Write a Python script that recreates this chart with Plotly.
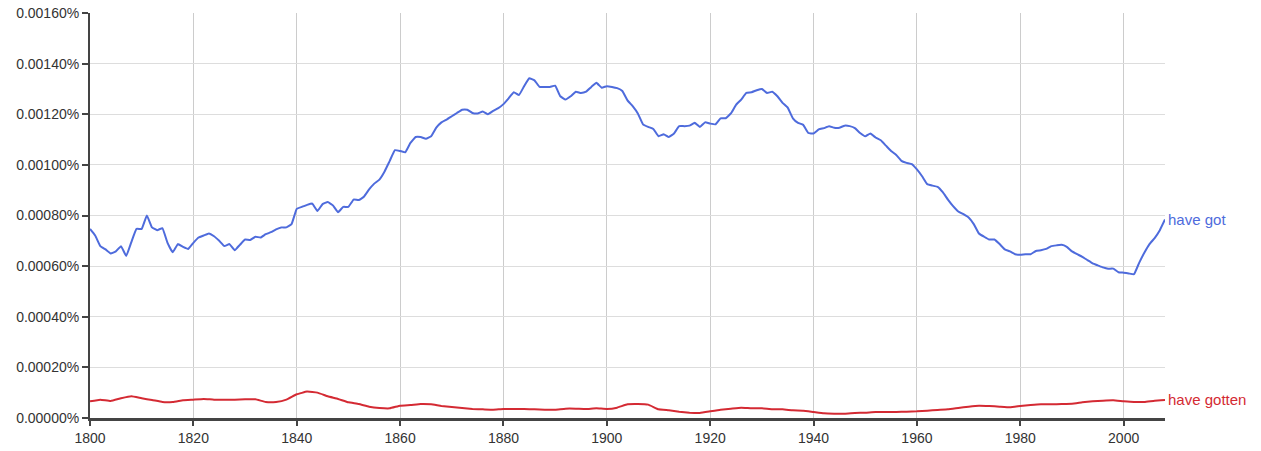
import plotly.graph_objects as go

years_got = list(range(1800, 2009))
have_got = [
    0.000747, 0.000721, 0.000679, 0.000666, 0.000650, 0.000658, 0.000679, 0.000640, 0.000695, 0.000747,
    0.000747, 0.000800, 0.000753, 0.000742, 0.000750, 0.000692, 0.000655, 0.000687, 0.000676, 0.000668,
    0.000692, 0.000713, 0.000721, 0.000729, 0.000718, 0.000700, 0.000679, 0.000687, 0.000663, 0.000684,
    0.000705, 0.000703, 0.000716, 0.000713, 0.000726, 0.000734, 0.000745, 0.000753, 0.000753, 0.000766,
    0.000826, 0.000834, 0.000842, 0.000847, 0.000818, 0.000845, 0.000853, 0.000840, 0.000813, 0.000834,
    0.000834, 0.000863, 0.000861, 0.000874, 0.000903, 0.000926, 0.000942, 0.000974, 0.001016, 0.001058,
    0.001055, 0.001050, 0.001087, 0.001110, 0.001110, 0.001103, 0.001113, 0.001147, 0.001168, 0.001179,
    0.001192, 0.001205, 0.001218, 0.001218, 0.001205, 0.001203, 0.001211, 0.001200, 0.001213, 0.001224,
    0.001240, 0.001263, 0.001287, 0.001276, 0.001311, 0.001342, 0.001334, 0.001308, 0.001308, 0.001308,
    0.001313, 0.001271, 0.001258, 0.001271, 0.001289, 0.001284, 0.001289, 0.001308, 0.001324, 0.001305,
    0.001311, 0.001308, 0.001303, 0.001292, 0.001255, 0.001232, 0.001203, 0.001160, 0.001150, 0.001142,
    0.001113, 0.001121, 0.001110, 0.001124, 0.001153, 0.001153, 0.001155, 0.001166, 0.001150, 0.001168,
    0.001163, 0.001160, 0.001184, 0.001184, 0.001203, 0.001237, 0.001258, 0.001284, 0.001287, 0.001295,
    0.001300, 0.001284, 0.001289, 0.001271, 0.001245, 0.001226, 0.001184, 0.001166, 0.001158, 0.001126,
    0.001124, 0.001140, 0.001145, 0.001153, 0.001147, 0.001147, 0.001155, 0.001153, 0.001145, 0.001126,
    0.001113, 0.001124, 0.001108, 0.001097, 0.001076, 0.001055, 0.001039, 0.001016, 0.001008, 0.001003,
    0.000982, 0.000955, 0.000924, 0.000918, 0.000913, 0.000892, 0.000863, 0.000837, 0.000816, 0.000805,
    0.000792, 0.000766, 0.000729, 0.000716, 0.000705, 0.000705, 0.000687, 0.000666, 0.000658, 0.000647,
    0.000645, 0.000647, 0.000647, 0.000660, 0.000663, 0.000668, 0.000679, 0.000682, 0.000684, 0.000676,
    0.000658, 0.000647, 0.000637, 0.000624, 0.000611, 0.000603, 0.000595, 0.000590, 0.000590, 0.000576,
    0.000574, 0.000571, 0.000568, 0.000613, 0.000653, 0.000687, 0.000711, 0.000742, 0.000784,
]

years_gotten = list(range(1800, 2009, 2))
have_gotten = [
    0.0000660, 0.0000725, 0.0000673, 0.0000778, 0.0000857, 0.0000778, 0.0000712, 0.0000633, 0.0000633, 0.0000699,
    0.0000725, 0.0000752, 0.0000725, 0.0000725, 0.0000725, 0.0000739, 0.0000739, 0.0000633, 0.0000633, 0.0000725,
    0.0000936, 0.0001042, 0.0001002, 0.0000857, 0.0000752, 0.0000620, 0.0000554, 0.0000448, 0.0000396, 0.0000383,
    0.0000488, 0.0000514, 0.0000554, 0.0000541, 0.0000475, 0.0000435, 0.0000396, 0.0000356, 0.0000343, 0.0000330,
    0.0000356, 0.0000356, 0.0000356, 0.0000343, 0.0000330, 0.0000330, 0.0000369, 0.0000369, 0.0000356, 0.0000383,
    0.0000356, 0.0000409, 0.0000541, 0.0000554, 0.0000528, 0.0000343, 0.0000303, 0.0000251, 0.0000211, 0.0000198,
    0.0000264, 0.0000330, 0.0000369, 0.0000409, 0.0000383, 0.0000383, 0.0000343, 0.0000343, 0.0000303, 0.0000290,
    0.0000237, 0.0000185, 0.0000171, 0.0000171, 0.0000198, 0.0000211, 0.0000237, 0.0000237, 0.0000237, 0.0000251,
    0.0000264, 0.0000290, 0.0000317, 0.0000343, 0.0000396, 0.0000448, 0.0000488, 0.0000475, 0.0000448, 0.0000422,
    0.0000475, 0.0000514, 0.0000541, 0.0000541, 0.0000554, 0.0000567, 0.0000620, 0.0000660, 0.0000686, 0.0000699,
    0.0000660, 0.0000633, 0.0000633, 0.0000686, 0.0000712,
]

series_names = ["have got", "have gotten"]
series_colors = ["#4e6bdc", "#d42a33"]

x_ticks = [1800, 1820, 1840, 1860, 1880, 1900, 1920, 1940, 1960, 1980, 2000]
y_ticks = [0.0, 0.0002, 0.0004, 0.0006, 0.0008, 0.0010, 0.0012, 0.0014, 0.0016]
y_tick_labels = ["0.00000%", "0.00020%", "0.00040%", "0.00060%", "0.00080%",
                 "0.00100%", "0.00120%", "0.00140%", "0.00160%"]

FONT = "Liberation Sans, Arial, Helvetica, sans-serif"

fig = go.Figure()
for xs, ys, name, color in [
    (years_got, have_got, series_names[0], series_colors[0]),
    (years_gotten, have_gotten, series_names[1], series_colors[1]),
]:
    fig.add_trace(go.Scatter(x=xs, y=ys, mode="lines", name=name,
                             line=dict(color=color, width=2, shape="spline", smoothing=0.3),
                             cliponaxis=False))
    fig.add_annotation(x=xs[-1], y=ys[-1], text=name, showarrow=False,
                       xanchor="left", yanchor="middle", xshift=1,
                       font=dict(color=color, size=15, family=FONT))

fig.update_layout(
    width=1261, height=451,
    margin=dict(l=90, r=96, t=13, b=33, autoexpand=False),
    plot_bgcolor="white", paper_bgcolor="white",
    showlegend=False,
    font=dict(family=FONT, size=14, color="#333333"),
)
fig.update_xaxes(
    range=[1800, 2008], tickvals=x_ticks, ticktext=[str(v) for v in x_ticks],
    showgrid=True, gridcolor="#cccccc", gridwidth=1,
    showline=True, linecolor="#444444", linewidth=3,
    ticks="outside", ticklen=5, tickcolor="#444444", tickwidth=2,
    zeroline=False, tickfont=dict(size=14, color="#333333"), automargin=False,
)
fig.update_yaxes(
    range=[0, 0.0016000001], tickvals=y_ticks, ticktext=y_tick_labels,
    showgrid=True, gridcolor="#dddddd", gridwidth=1,
    showline=True, linecolor="#444444", linewidth=2,
    ticks="outside", ticklen=6, tickcolor="#444444", tickwidth=2,
    zeroline=False, tickfont=dict(size=14, color="#333333"), automargin=False,
)

# remove the default 8px page margin so the figure sits at the window's corner
fig.write_html(
    "out.html",
    config={"displayModeBar": False},
    post_script="document.body.style.margin='0';document.documentElement.style.overflow='hidden';",
)
